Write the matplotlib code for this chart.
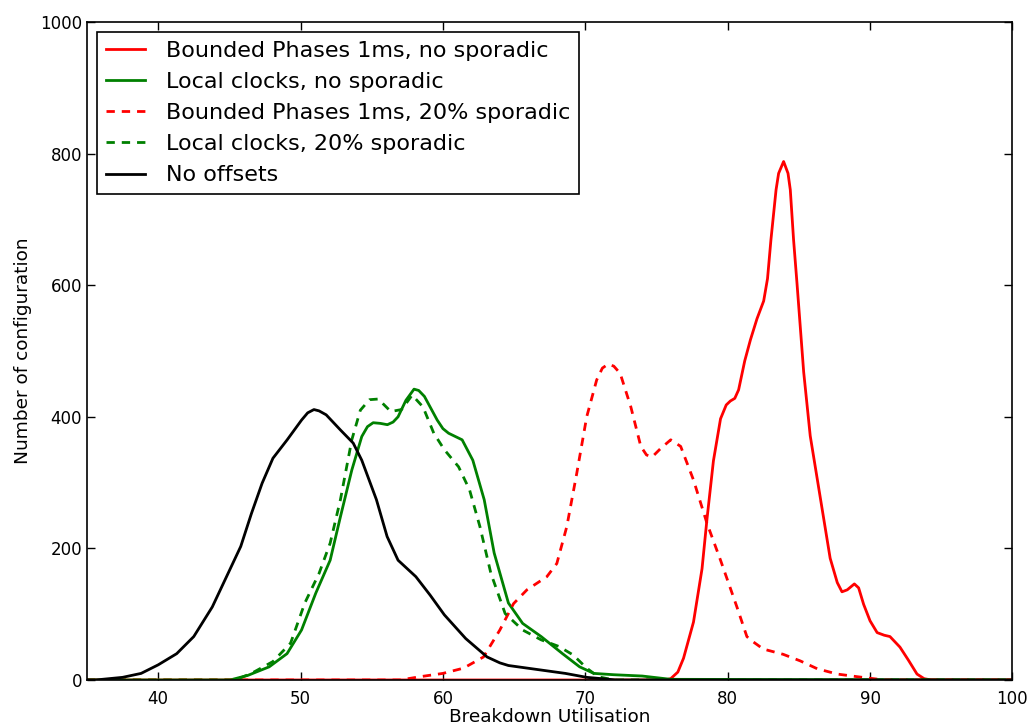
import matplotlib
matplotlib.use("Agg")
import matplotlib.pyplot as plt

# Bounded Phases 1ms, no sporadic
bp_x = [35, 60, 75.6, 76.0, 76.5, 76.9, 77.6, 78.2, 78.55, 79.0, 79.5, 79.9, 80.19, 80.5, 80.77, 81.2, 81.6,
        82.06, 82.53, 82.8, 83.04, 83.4, 83.58, 83.93, 84.24, 84.4, 84.63, 84.87, 85.34, 85.8, 86.5, 87.2,
        87.7, 88.03, 88.4, 88.9, 89.2, 89.55, 90.0, 90.5, 91.0, 91.4, 92.1, 92.7, 93.3, 93.8, 94.3, 100]
bp_y = [0, 0, 0, 2, 12, 33, 88, 169, 245, 333, 397, 418, 424, 428, 441, 485, 517,
        549, 576, 610, 669, 745, 770, 788, 770, 745, 669, 603, 468, 371, 278, 185,
        148, 134, 137, 146, 140, 115, 90, 72, 68, 66, 50, 30, 9, 2, 0, 0]

# Local clocks, no sporadic
lc_x = [35, 45.05, 46.3, 47.8, 49.05, 50.07, 51.07, 52.08, 52.8, 53.6, 54.3, 54.7, 55.1, 55.6, 56.1, 56.5,
        56.85, 57.4, 57.97, 58.3, 58.7, 59.6, 60.0, 60.4, 61.35, 62.1, 62.9, 63.6, 64.6, 65.6, 66.9, 68.4,
        69.6, 70.6, 71.3, 72.0, 74.0, 76.0, 100]
lc_y = [0, 0, 7, 20, 40, 76, 132, 182, 248, 319, 370, 385, 391, 390, 388, 392,
        400, 425, 442, 440, 431, 395, 382, 375, 365, 334, 274, 193, 117, 86, 66, 40,
        20, 10, 9, 8, 6, 1, 0]

# Bounded Phases 1ms, 20% sporadic
bps_x = [35, 57.0, 58.4, 60.0, 61.45, 62.85, 64.0, 64.96, 65.9, 67.3, 68.0, 68.7, 69.4, 70.1, 70.8, 71.2,
         71.6, 72.0, 72.45, 73.2, 73.9, 74.3, 74.7, 75.3, 76.0, 76.7, 77.6, 78.55, 79.5, 80.65, 81.35,
         81.6, 82.5, 83.9, 85.1, 86.3, 87.7, 89.1, 91.0, 100]
bps_y = [0, 0, 5, 10, 18, 35, 76, 116, 137, 157, 177, 233, 314, 400, 456, 474,
         480, 477, 466, 415, 355, 342, 339, 352, 365, 355, 304, 238, 182, 111, 66,
         61, 47, 39, 29, 17, 9, 5, 0, 0]

# Local clocks, 20% sporadic
lcs_x = [35, 45.4, 46.55, 48.06, 49.3, 50.3, 51.3, 52.08, 52.8, 53.6, 54.2, 54.84, 55.46, 56.34, 57.1,
         57.84, 58.6, 59.36, 60.1, 61.1, 61.87, 62.6, 63.37, 64.37, 65.6, 66.9, 68.14, 69.15, 70.1, 70.9,
         72.0, 100]
lcs_y = [0, 0, 10, 28, 56, 117, 162, 208, 274, 365, 410, 426, 427, 408, 411,
         433, 415, 375, 350, 324, 289, 233, 162, 101, 76, 61, 51, 38, 18, 5,
         0, 0]

# No offsets
no_x = [35, 35.6, 37.5, 38.8, 40.0, 41.3, 42.5, 43.8, 44.8, 45.8, 46.55, 47.3, 48.06, 49.06, 50.07, 50.5,
        50.94, 51.3, 51.8, 52.8, 53.7, 54.3, 55.33, 56.08, 56.85, 58.1, 59.1, 60.1, 61.6, 63.1, 64.0,
        64.6, 66.6, 68.6, 70.1, 72.2, 100]
no_y = [0, 0, 4, 10, 23, 40, 66, 111, 157, 203, 253, 299, 337, 365, 395, 406,
        411, 409, 403, 380, 360, 334, 274, 218, 182, 157, 129, 99, 63, 35, 26,
        22, 16, 10, 4, 0, 0]

labels = ["Bounded Phases 1ms, no sporadic", "Local clocks, no sporadic",
          "Bounded Phases 1ms, 20% sporadic", "Local clocks, 20% sporadic", "No offsets"]
x_ticks = [40, 50, 60, 70, 80, 90, 100]
y_ticks = [0, 200, 400, 600, 800, 1000]

fig = plt.figure(figsize=(10.32, 7.24), dpi=100)
ax = fig.add_axes([0.0843, 0.0608, 0.8967, 0.9088])

dash = (0, (3, 2.5))
ax.plot(bp_x, bp_y, color="#ff0000", lw=2, label=labels[0])
ax.plot(lc_x, lc_y, color="#008000", lw=2, label=labels[1])
ax.plot(bps_x, bps_y, color="#ff0000", lw=2, linestyle=dash, label=labels[2])
ax.plot(lcs_x, lcs_y, color="#008000", lw=2, linestyle=dash, label=labels[3])
ax.plot(no_x, no_y, color="black", lw=2, label=labels[4])

ax.set_xlim(35, 100)
ax.set_ylim(0, 1000)
ax.set_xticks(x_ticks)
ax.set_yticks(y_ticks)
ax.tick_params(direction="in", top=True, right=True, length=6, labelsize=12, width=1)
ax.tick_params(axis="x", pad=7)
for s in ax.spines.values():
    s.set_linewidth(1.2)

ax.set_xlabel("Breakdown Utilisation", fontsize=13.3, labelpad=0)
ax.set_ylabel("Number of configuration", fontsize=13.3, labelpad=6)

leg = ax.legend(loc="upper left", fontsize=16, fancybox=False, framealpha=1,
                edgecolor="black", borderaxespad=0.45, handlelength=1.75,
                labelspacing=0.5, borderpad=0.4, handletextpad=0.95)
leg.get_frame().set_linewidth(1.2)

fig.savefig("out.png", dpi=100)
